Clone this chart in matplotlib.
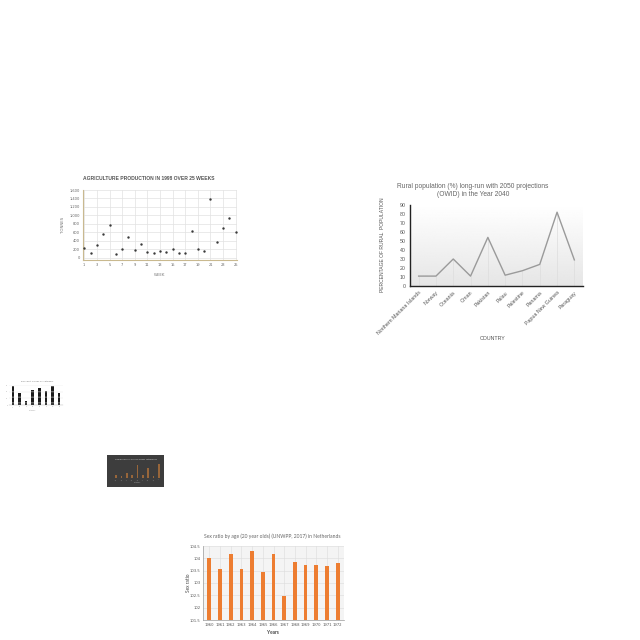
import numpy as np
import matplotlib
matplotlib.use("Agg")
import matplotlib.pyplot as plt

# ---------------- data ----------------
weeks = list(range(1, 26))
tonnes = [230, 110, 310, 560, 780, 100, 200, 490, 190, 330, 140, 110, 170,
          150, 220, 120, 120, 630, 200, 160, 1390, 370, 710, 930, 620]
week_ticks = list(range(1, 26, 2))
tonne_ticks = list(range(0, 1601, 200))

countries = ["Northern Mariana Islands", "Norway", "Oceania", "Oman", "Pakistan",
             "Palau", "Palestine", "Panama", "Papua New Guinea", "Paraguay"]
rural_pct = [11, 11, 30, 11, 54, 12, 17, 24, 82, 29]
rural_ticks = list(range(0, 91, 10))

years = [str(y) for y in range(1960, 1973)]
sex_ratio = [104.0, 103.55, 104.18, 103.55, 104.3, 103.46, 104.16, 102.47,
             103.84, 103.74, 103.72, 103.68, 103.8]
sex_ticks = [101.5, 102, 102.5, 103, 103.5, 104, 104.5]

small_cats = ["A", "B", "C", "D", "E", "F", "G", "H"]
small_vals = [58, 35, 11, 46, 52, 41, 58, 35]

dark_cats = ["a", "b", "c", "d", "e", "f", "g", "h", "i"]
dark_vals = [2, 1, 3, 2, 8, 2, 6, 1, 9]

W = H = 640
fig = plt.figure(figsize=(6.4, 6.4), dpi=100)
fig.patch.set_facecolor("white")


def add_ax(x0, y0, x1, y1):
    return fig.add_axes([x0 / W, 1 - y1 / H, (x1 - x0) / W, (y1 - y0) / H])


def ftext(x, y, s, **kw):
    fig.text(x / W, 1 - y / H, s, **kw)


# ---------------- agriculture scatter ----------------
ax1 = add_ax(83, 190, 237, 260)
ax1.scatter(weeks, tonnes, s=3, color="#3a3a3a", zorder=3, linewidths=0)
ax1.set_xlim(0.8, 25.2)
ax1.set_ylim(-50, 1600)
ax1.set_xticks(week_ticks)
ax1.set_yticks(tonne_ticks)
ax1.set_yticklabels([f"{t:,}" for t in tonne_ticks])
ax1.tick_params(labelsize=2.6, length=0, pad=2, colors="#666666")
ax1.grid(True, color="#e2e2e2", lw=0.5)
ax1.set_axisbelow(True)
for s in ["top", "right"]:
    ax1.spines[s].set_visible(False)
for s in ["left", "bottom"]:
    ax1.spines[s].set_color("#c9b98f")
    ax1.spines[s].set_linewidth(0.8)
ftext(160, 275, "WEEK", fontsize=2.8, color="#777777", ha="center", va="center")
ftext(63, 225, "TONNES", fontsize=2.8, color="#777777", ha="center", va="center",
      rotation=90)
ftext(149, 179, "AGRICULTURE PRODUCTION IN 1998 OVER 25 WEEKS", fontsize=3.6,
      fontweight="bold", color="#555555", ha="center", va="center",
      family="Liberation Sans")

# ---------------- rural population line ----------------
ax2 = add_ax(410, 205, 583, 286)
xs = np.arange(len(countries))
grad = np.linspace(1.0, 0.90, 256).reshape(-1, 1)
ax2.imshow(grad, extent=[-0.5, 9.5, 0, 90], aspect="auto", cmap="gray",
           vmin=0, vmax=1, zorder=0, origin="upper")
ax2.vlines(xs, 0, rural_pct, color="#dddddd", lw=0.5, zorder=1)
ax2.plot(xs, rural_pct, color="#9a9a9a", lw=1.0, zorder=2)
ax2.set_xlim(-0.5, 9.5)
ax2.set_ylim(0, 90)
ax2.set_yticks(rural_ticks)
ax2.set_xticks(xs)
ax2.set_xticklabels(countries, rotation=45, ha="right", rotation_mode="anchor")
ax2.tick_params(labelsize=3.8, length=0, pad=3, colors="#555555")
for lab in ax2.get_xticklabels() + ax2.get_yticklabels():
    lab.set_family("Liberation Sans")
for s in ["top", "right"]:
    ax2.spines[s].set_visible(False)
for s in ["left", "bottom"]:
    ax2.spines[s].set_color("#222222")
    ax2.spines[s].set_linewidth(1.0)
ftext(473, 190, "Rural population (%) long-run with 2050 projections\n(OWID) in the Year 2040",
      fontsize=4.8, color="#666666", family="Liberation Sans", ha="center",
      va="center", linespacing=1.2)
ftext(382, 245, "PERCENTAGE OF RURAL  POPULATION", fontsize=3.6, color="#555555",
      family="Liberation Sans", ha="center", va="center", rotation=90)
ftext(493, 338, "COUNTRY", fontsize=3.8, color="#555555", family="Liberation Sans",
      ha="center", va="center")

# ---------------- small black bar chart ----------------
ax3 = add_ax(9, 385, 63, 405)
ax3.bar(np.arange(len(small_cats)), small_vals, width=0.4, color="#1a1a1a",
        hatch="---", edgecolor="#666666", linewidth=0)
ax3.set_xlim(-0.6, 7.6)
ax3.set_ylim(0, 60)
ax3.set_xticks(np.arange(len(small_cats)))
ax3.set_xticklabels(small_cats)
ax3.set_yticks([0, 20, 40, 60])
ax3.tick_params(labelsize=1.2, length=0, pad=1, colors="#999999")
ax3.grid(axis="y", color="#e5e5e5", lw=0.3)
ax3.set_axisbelow(True)
for s in ax3.spines.values():
    s.set_visible(False)
ax3.spines["bottom"].set_visible(True)
ax3.spines["bottom"].set_color("#bbbbbb")
ax3.spines["bottom"].set_linewidth(0.3)
ftext(37, 381, "Bar chart values by category", fontsize=1.6, color="#777777",
      ha="center", va="center")
ftext(33, 410, "Category", fontsize=1.2, color="#999999", ha="center", va="center")

# ---------------- dark chart ----------------
bg = add_ax(107, 455, 164, 487)
bg.set_facecolor("#3d3d3d")
bg.set_xticks([])
bg.set_yticks([])
for s in bg.spines.values():
    s.set_visible(False)
bg.text(0.5, 0.85, "Comparison of values across categories", transform=bg.transAxes,
        ha="center", va="center", fontsize=1.5, color="#d8d8d8")
ax4 = add_ax(113, 462, 162, 478)
ax4.set_facecolor("#3d3d3d")
ax4.bar(np.arange(len(dark_cats)), dark_vals, width=0.3, color="#b0713a", alpha=0.8)
ax4.set_xlim(-0.6, len(dark_cats) - 0.4)
ax4.set_ylim(0, 10)
ax4.set_xticks(np.arange(len(dark_cats)))
ax4.set_xticklabels(dark_cats, rotation=45)
ax4.set_yticks([])
ax4.tick_params(labelsize=1.2, length=0, pad=1, colors="#aaaaaa")
for s in ax4.spines.values():
    s.set_visible(False)
ax4.set_xlabel("Category", fontsize=1.2, color="#aaaaaa", labelpad=1)

# ---------------- sex ratio bar chart ----------------
ax5 = add_ax(203, 546, 344, 620)
ax5.set_facecolor("#f4f4f4")
ax5.bar(np.arange(len(years)), [v - 101.5 for v in sex_ratio], bottom=101.5,
        width=0.36, color="#ed7d31", zorder=3)
ax5.set_xlim(-0.6, len(years) - 0.4)
ax5.set_ylim(101.5, 104.5)
ax5.set_yticks(sex_ticks)
ax5.set_yticklabels([f"{t:g}" for t in sex_ticks])
ax5.set_xticks(np.arange(len(years)))
ax5.set_xticklabels(years)
ax5.tick_params(labelsize=2.7, length=0, pad=2, colors="#555555")
ax5.grid(True, color="#dcdcdc", lw=0.4)
ax5.set_axisbelow(True)
for s in ["top", "right"]:
    ax5.spines[s].set_visible(False)
for s in ["left", "bottom"]:
    ax5.spines[s].set_color("#999999")
    ax5.spines[s].set_linewidth(0.5)
ftext(272, 536, "Sex ratio by age (20 year olds) (UNWPP, 2017) in Netherlands",
      fontsize=3.6, color="#666666", family="Lato", ha="center", va="center")
ftext(273, 632, "Years", fontsize=3.4, color="#444444", family="Lato",
      fontweight="bold", ha="center", va="center")
ftext(188, 583, "Sex ratio", fontsize=3.4, color="#444444", family="Lato",
      ha="center", va="center", rotation=90)

fig.savefig("out.png", dpi=100, facecolor="white")
